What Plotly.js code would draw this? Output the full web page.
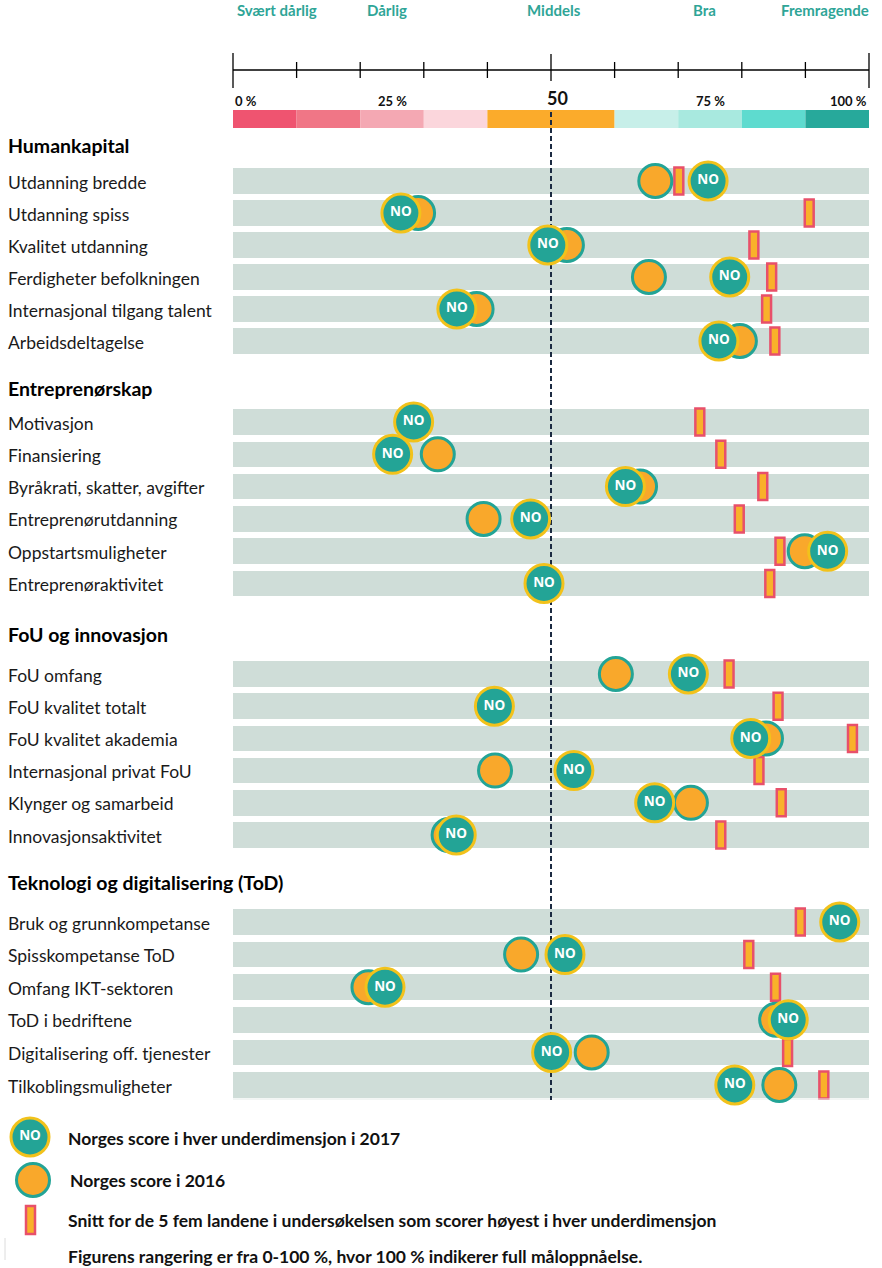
<!DOCTYPE html>
<html><head><meta charset="utf-8">
<script src="https://cdn.plot.ly/plotly-3.0.1.min.js"></script>
<style>html,body{margin:0;padding:0;background:#fff}#chart{width:882px;height:1268px}</style>
</head><body><div id="chart"></div>
<script>
// ---------------- DATA ----------------
const groupNames = ["Humankapital", "Entreprenørskap", "FoU og innovasjon", "Teknologi og digitalisering (ToD)"];

const hkLabels = ["Utdanning bredde", "Utdanning spiss", "Kvalitet utdanning", "Ferdigheter befolkningen", "Internasjonal tilgang talent", "Arbeidsdeltagelse"];
const hk2017 = [74.7, 26.4, 49.5, 78.1, 35.2, 76.4];
const hk2016 = [66.4, 29.1, 52.5, 65.4, 38.3, 79.7];
const hkTop5 = [70.1, 90.6, 81.9, 84.7, 83.9, 85.2];

const enLabels = ["Motivasjon", "Finansiering", "Byråkrati, skatter, avgifter", "Entreprenørutdanning", "Oppstartsmuligheter", "Entreprenøraktivitet"];
const en2017 = [28.4, 25.1, 61.7, 46.8, 93.5, 48.9];
const en2016 = [28.4, 32.2, 64.0, 39.4, 89.9, 48.9];
const enTop5 = [73.4, 76.7, 83.3, 79.6, 86.0, 84.4];

const fouLabels = ["FoU omfang", "FoU kvalitet totalt", "FoU kvalitet akademia", "Internasjonal privat FoU", "Klynger og samarbeid", "Innovasjonsaktivitet"];
const fou2017 = [71.6, 41.1, 81.4, 53.6, 66.3, 35.1];
const fou2016 = [60.2, 41.1, 83.8, 41.2, 72.0, 33.9];
const fouTop5 = [78.0, 85.7, 97.4, 82.7, 86.2, 76.7];

const todLabels = ["Bruk og grunnkompetanse", "Spisskompetanse ToD", "Omfang IKT-sektoren", "ToD i bedriftene", "Digitalisering off. tjenester", "Tilkoblingsmuligheter"];
const tod2017 = [95.4, 52.2, 23.9, 87.3, 50.1, 78.9];
const tod2016 = [95.4, 45.3, 21.3, 85.4, 56.4, 85.9];
const todTop5 = [89.2, 81.1, 85.3, 87.0, 87.2, 92.9];

const levelNames = ["Svært dårlig", "Dårlig", "Middels", "Bra", "Fremragende"];
const levelPos = [6.9, 24.2, 50.5, 74.1, 93.1];
const scaleTicks = [0, 10, 20, 30, 40, 50, 60, 70, 80, 90, 100];
const scaleLabels = ["0 %", "25 %", "50", "75 %", "100 %"];
const scaleLabelPos = [0, 25, 50, 75, 100];
const bandEdges = [0, 10, 20, 30, 40, 60, 70, 80, 90, 100];
const bandColors = ["#ef5470", "#f07686", "#f4a8b3", "#fbd6dc", "#fbab2b", "#c7efe9", "#a8e9df", "#5edbcf", "#27a99b"];

const legendTexts = [
  "Norges score i hver underdimensjon i 2017",
  "Norges score i 2016",
  "Snitt for de 5 fem landene i undersøkelsen som scorer høyest i hver underdimensjon",
  "Figurens rangering er fra 0-100 %, hvor 100 % indikerer full måloppnåelse."
];

// ---------------- LAYOUT GEOMETRY ----------------
const W = 882, H = 1268;
const X0PX = 233, X100PX = 869;
const K = (X100PX - X0PX) / 100;
const px2x = px => (px - X0PX) / K;

const headerY = [145, 388, 634, 882];
const firstRowY = [181, 422, 674, 922];
const rowStep = [32, 32.3, 32.2, 32.6];

const groups = [
  {labels: hkLabels, s17: hk2017, s16: hk2016, top: hkTop5},
  {labels: enLabels, s17: en2017, s16: en2016, top: enTop5},
  {labels: fouLabels, s17: fou2017, s16: fou2016, top: fouTop5},
  {labels: todLabels, s17: tod2017, s16: tod2016, top: todTop5}
];

const rowY = [], v17 = [], v16 = [], vTop = [], rowLab = [];
groups.forEach((g, gi) => {
  g.labels.forEach((lab, i) => {
    rowY.push(firstRowY[gi] + i * rowStep[gi]);
    v17.push(g.s17[i]); v16.push(g.s16[i]); vTop.push(g.top[i]); rowLab.push(lab);
  });
});

const FONT = "Lato, 'Open Sans', sans-serif";
const TEAL = "#23a496", YELLOW = "#f2c21b", ORANGE = "#f9a82b", BENCHFILL = "#f9b12a", BENCHLINE = "#e8506a";

// ---------------- TRACES ----------------
const traces = [];
traces.push({type: "bar", orientation: "h", y: rowY, x: rowY.map(() => 100), base: 0, width: 25.5,
  marker: {color: "#cfddd8", line: {width: 0}}, hoverinfo: "skip", showlegend: false});
traces.push({type: "bar", orientation: "h", y: rowY, x: vTop.map(() => 1.4), base: vTop.map(v => v - 0.7), width: 27,
  marker: {color: BENCHFILL, line: {color: BENCHLINE, width: 2.5}}, hoverinfo: "skip", showlegend: false});

traces.push({type: "scatter", mode: "lines", x: [0, 100], y: [70, 70], line: {color: "#000", width: 1.3}, hoverinfo: "skip", showlegend: false});
const tx = [], ty = [];
scaleTicks.forEach(t => {
  let y0 = 62, y1 = 78;
  if (t === 0 || t === 100) { y0 = 53; y1 = 88; }
  if (t === 50) { y0 = 54; y1 = 81; }
  tx.push(t, t, null); ty.push(y0, y1, null);
});
traces.push({type: "scatter", mode: "lines", x: tx, y: ty, line: {color: "#000", width: 1.3}, hoverinfo: "skip", showlegend: false});
traces.push({type: "scatter", mode: "lines", x: [0, 100], y: [1099, 1099], line: {color: "#e6ecea", width: 1}, hoverinfo: "skip", showlegend: false});

traces.push({type: "scatter", mode: "lines", x: [50, 50], y: [112, 1100], line: {color: "#1b2a41", width: 2, dash: "5px,3px"}, hoverinfo: "skip", showlegend: false});

traces.push({type: "scatter", mode: "markers", x: v16, y: rowY,
  marker: {size: 33, color: ORANGE, line: {color: TEAL, width: 3}}, hoverinfo: "skip", showlegend: false});
traces.push({type: "scatter", mode: "markers+text", x: v17, y: rowY, text: v17.map(() => "NO"), textposition: "middle center",
  textfont: {family: "'Open Sans', sans-serif", size: 13.5, color: "#fff", weight: 700},
  marker: {size: 38, color: TEAL, line: {color: YELLOW, width: 3}}, hoverinfo: "skip", showlegend: false});

traces.push({type: "scatter", mode: "markers+text", x: [px2x(30)], y: [1137], text: ["NO"], textposition: "middle center",
  textfont: {family: "'Open Sans', sans-serif", size: 13.5, color: "#fff", weight: 700},
  marker: {size: 38, color: TEAL, line: {color: YELLOW, width: 3}}, hoverinfo: "skip", showlegend: false});
traces.push({type: "scatter", mode: "markers", x: [px2x(33)], y: [1180],
  marker: {size: 33, color: ORANGE, line: {color: TEAL, width: 3}}, hoverinfo: "skip", showlegend: false});

// ---------------- SHAPES ----------------
const shapes = [];
bandColors.forEach((c, i) => {
  shapes.push({type: "rect", xref: "x", yref: "y", x0: bandEdges[i], x1: bandEdges[i + 1], y0: 110, y1: 128,
    fillcolor: c, line: {width: 0}, layer: "below"});
});
shapes.push({type: "rect", xref: "x", yref: "y", x0: px2x(26), x1: px2x(35), y0: 1206, y1: 1234,
  fillcolor: BENCHFILL, line: {color: BENCHLINE, width: 2.5}, layer: "above"});
shapes.push({type: "line", xref: "x", yref: "y", x0: px2x(5), x1: px2x(5), y0: 1238, y1: 1260,
  line: {color: "#dcdcdc", width: 1}});

// ---------------- ANNOTATIONS ----------------
const ann = [];
levelNames.forEach((t, i) => ann.push({x: levelPos[i], y: 10, xref: "x", yref: "y", text: t, showarrow: false,
  xanchor: "center", yanchor: "middle", font: {family: FONT, size: 15, color: "#2fa597", weight: 700}}));
scaleLabels.forEach((t, i) => {
  const p = scaleLabelPos[i];
  let xa = "center";
  if (p === 0) xa = "left";
  if (p === 100) xa = "right";
  ann.push({x: p === 50 ? p + 1 : p, y: p === 50 ? 98 : 101, xref: "x", yref: "y", text: t, showarrow: false,
    xanchor: xa, yanchor: "middle",
    font: {family: FONT, size: p === 50 ? 18 : 13, color: "#111", weight: 700}});
});
groupNames.forEach((t, gi) => ann.push({x: px2x(6), y: headerY[gi], xref: "x", yref: "y", text: t, showarrow: false,
  xanchor: "left", yanchor: "middle", font: {family: FONT, size: 19.5, color: "#000", weight: 700}}));
rowLab.forEach((t, i) => ann.push({x: px2x(6), y: rowY[i] + 1, xref: "x", yref: "y", text: t, showarrow: false,
  xanchor: "left", yanchor: "middle", font: {family: FONT, size: 17.5, color: "#1a1a1a"}}));
const legY = [1138, 1180, 1220, 1256];
const legX = [66, 68, 66, 66];
legendTexts.forEach((t, i) => ann.push({x: px2x(legX[i]), y: legY[i], xref: "x", yref: "y", text: t, showarrow: false,
  xanchor: "left", yanchor: "middle", font: {family: FONT, size: 17.5, color: "#111", weight: 700}}));

const layout = {
  width: W, height: H,
  margin: {l: 0, r: 0, t: 0, b: 0, pad: 0},
  paper_bgcolor: "#fff", plot_bgcolor: "#fff",
  barmode: "overlay", bargap: 0,
  xaxis: {range: [px2x(0), px2x(W)], visible: false, fixedrange: true},
  yaxis: {range: [H, 0], visible: false, fixedrange: true},
  shapes: shapes, annotations: ann, showlegend: false
};
Plotly.newPlot("chart", traces, layout, {displayModeBar: false, staticPlot: true});
</script></body></html>
